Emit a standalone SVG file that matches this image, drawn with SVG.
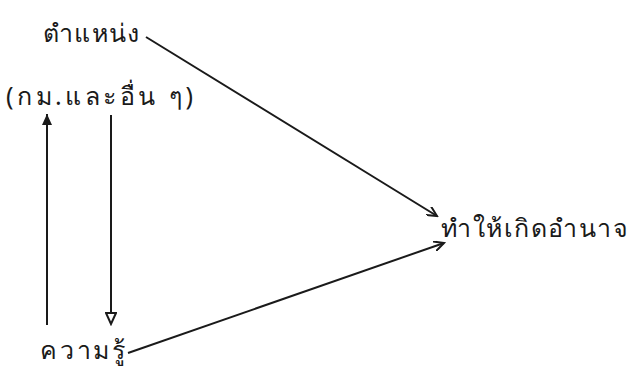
<svg xmlns="http://www.w3.org/2000/svg" width="630" height="367" viewBox="0 0 630 367">
<style>
text{font-family:"Noto Sans","DejaVu Sans",sans-serif;font-size:25px;fill:#1a1a1a}
.ln{stroke:#1a1a1a;stroke-width:2;fill:none}
</style>
<defs>
<marker id="a" markerWidth="12" markerHeight="10" refX="10" refY="5" orient="auto" markerUnits="userSpaceOnUse"><path d="M0,0 L10,5 L0,10" fill="none" stroke="#1a1a1a" stroke-width="2"/></marker>
<marker id="f" markerWidth="12" markerHeight="12" refX="11" refY="6" orient="auto" markerUnits="userSpaceOnUse"><path d="M0,1 L11,6 L0,11 Z" fill="#1a1a1a"/></marker>
<marker id="h" markerWidth="14" markerHeight="12" refX="12" refY="6" orient="auto" markerUnits="userSpaceOnUse"><path d="M1,1 L12,6 L1,11 Z" fill="#fff" stroke="#1a1a1a" stroke-width="2"/></marker>
</defs>
<g id="n1"><text x="43" y="42" textLength="96" lengthAdjust="spacing">ตำแหน่ง</text></g>
<g id="n2"><text x="6" y="105" textLength="187" lengthAdjust="spacing">(กม.และอื่น ๆ)</text></g>
<g id="n3"><text x="40" y="359" textLength="85" lengthAdjust="spacing">ความรู้</text></g>
<g id="n4"><text x="441" y="237" textLength="187" lengthAdjust="spacing">ทำให้เกิดอำนาจ</text></g>
<g id="edges">
<line class="ln" x1="146" y1="37" x2="437" y2="216" marker-end="url(#a)"/>
<line class="ln" x1="128" y1="353" x2="444" y2="243" marker-end="url(#a)"/>
<line class="ln" x1="47" y1="325" x2="47" y2="114" marker-end="url(#f)"/>
<line class="ln" x1="111" y1="115" x2="111" y2="324" marker-end="url(#h)"/>
</g>
</svg>
